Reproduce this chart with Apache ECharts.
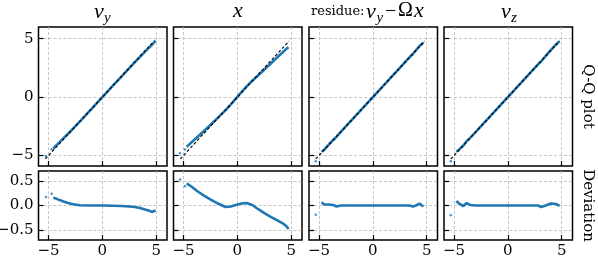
<!DOCTYPE html>
<html><head><meta charset="utf-8">
<script src="https://cdn.jsdelivr.net/npm/echarts@6/dist/echarts.min.js"></script>
<style>html,body{margin:0;padding:0;background:#fff}#c{width:598px;height:260px}</style>
</head><body><div id="c"></div>
<script>
// ---- data (theoretical quantile t, deviation = sample - theoretical) ----
const vyT   = [-4.56,-4.3,-3.97,-3.6,-3.19,-2.7,-2.1,-1.0,0,1.0,1.77,2.5,3.0,3.5,3.95,4.3,4.57,4.75,4.94];
const vyDev = [0.155,0.14,0.11,0.08,0.05,0.025,0.005,0.0,0.0,-0.005,-0.01,-0.02,-0.03,-0.05,-0.08,-0.1,-0.13,-0.13,-0.10];
const vyOutT = [-5.24,-4.71];
const vyOutDev = [0.17,0.24];

const xT   = [-4.71,-4.3,-3.71,-3.1,-2.48,-1.8,-1.09,-0.6,-0.16,0.4,0.86,1.39,1.9,2.47,3.1,3.71,4.33,4.6,4.75];
const xDev = [0.45,0.39,0.29,0.2,0.12,0.04,-0.03,-0.02,0.01,0.04,0.05,0.01,-0.07,-0.15,-0.23,-0.30,-0.38,-0.43,-0.48];
const xOutT = [-5.33,-4.87];
const xOutDev = [0.53,0.39];

const resT   = [-4.75,-4.55,-4.38,-4.15,-3.98,-3.68,-3.37,-3.0,0,3.4,3.71,4.0,4.33,4.55,4.7];
const resDev = [0.07,0.02,-0.02,0.02,0.03,0.01,-0.02,0.0,0.0,0.0,-0.02,0.0,0.04,0.0,-0.02];
const resOutT = [-5.3];
const resOutDev = [-0.19];

const vzT   = [-4.78,-4.54,-4.13,-3.83,-3.5,-3.0,0,2.8,3.1,3.5,4.0,4.5,4.8];
const vzDev = [0.09,0.04,-0.01,0.05,0.01,0.0,0.0,0.0,-0.03,0.0,0.04,0.03,-0.01];
const vzOutT = [-5.3];
const vzOutDev = [-0.2];

const refLine = [-5.3, 4.8];          // y = x reference
const xTicks = [-5, 0, 5];
const qqTicks = [-5, 0, 5];
const devTicks = [-0.5, 0, 0.5];
const rowLabels = ['Q-Q plot', 'Deviation'];

// ---- build chart ----
const cols = [
  {t: vyT, d: vyDev, ot: vyOutT, od: vyOutDev},
  {t: xT, d: xDev, ot: xOutT, od: xOutDev},
  {t: resT, d: resDev, ot: resOutT, od: resOutDev},
  {t: vzT, d: vzDev, ot: vzOutT, od: vzOutDev}
];
const colLeft = [38.5, 173.5, 309, 444];
const colW = 128.5;
const rowTop = [27, 171];
const rowH = [139, 69];
const BLUE = '#1f77b4';
const FONT = 'DejaVu Serif';
const MATH = 'Liberation Serif';
const fmtInt = v => (v < 0 ? '\u2212' : '') + Math.abs(v);
const fmtDec = v => (v < 0 ? '\u2212' : '') + Math.abs(v).toFixed(1);
const split = {show: true, lineStyle: {color: '#b8b8b8', type: [3, 2], width: 0.8}};

const grid = [], xAxis = [], yAxis = [], series = [];
for (let r = 0; r < 2; r++) {
  for (let c = 0; c < 4; c++) {
    const i = r * 4 + c;
    grid.push({left: colLeft[c], top: rowTop[r], width: colW, height: rowH[r], show: true,
      borderColor: '#000', borderWidth: 1.5, backgroundColor: 'transparent',
      containLabel: false, outerBoundsMode: 'none'});
    xAxis.push({type: 'value', gridIndex: i, min: -5.93, max: 6.0,
      axisLine: {show: false, onZero: false},
      axisTick: {show: true, inside: true, length: 5, customValues: xTicks, lineStyle: {color: '#000', width: 1.2}},
      axisLabel: {show: r === 1, customValues: xTicks, formatter: fmtInt, color: '#000', fontFamily: FONT, fontSize: 15, margin: 4},
      splitLine: split});
    yAxis.push({type: 'value', gridIndex: i,
      min: r === 0 ? -5.9 : -0.7, max: r === 0 ? 6.0 : 0.7,
      axisLine: {show: false, onZero: false},
      axisTick: {show: true, inside: true, length: 5, customValues: r === 0 ? qqTicks : devTicks, lineStyle: {color: '#000', width: 1.2}},
      axisLabel: {show: c === 0, customValues: r === 0 ? qqTicks : devTicks, formatter: r === 0 ? fmtInt : fmtDec,
        color: '#000', fontFamily: FONT, fontSize: 15, margin: 5},
      splitLine: split});
  }
}
cols.forEach((col, c) => {
  const top = c, bot = c + 4;
  series.push({type: 'line', xAxisIndex: top, yAxisIndex: top, showSymbol: false, silent: true,
    data: col.t.map((t, k) => [t, t + col.d[k]]), lineStyle: {color: BLUE, width: 2.6}, z: 2});
  series.push({type: 'scatter', xAxisIndex: top, yAxisIndex: top, symbolSize: 2.5,
    data: col.ot.map((t, k) => [t, t + col.od[k]]), itemStyle: {color: BLUE}, z: 2});
  series.push({type: 'line', xAxisIndex: top, yAxisIndex: top, showSymbol: false, silent: true,
    data: refLine.map(v => [v, v]), lineStyle: {color: '#000', width: 1.1, type: [3, 2]}, z: 5});
  series.push({type: 'line', xAxisIndex: bot, yAxisIndex: bot, showSymbol: false, silent: true,
    data: col.t.map((t, k) => [t, col.d[k]]), lineStyle: {color: BLUE, width: 2.6}, z: 2});
  series.push({type: 'scatter', xAxisIndex: bot, yAxisIndex: bot, symbolSize: 2.5,
    data: col.ot.map((t, k) => [t, col.od[k]]), itemStyle: {color: BLUE}, z: 2});
});

const it = (txt, x, y, size) => ({type: 'text', x, y, silent: true,
  style: {text: txt, font: `italic ${size}px "${MATH}"`, fill: '#000', align: 'left', verticalAlign: 'middle'}});
const rm = (txt, x, y, size, fam) => ({type: 'text', x, y, silent: true,
  style: {text: txt, font: `${size}px "${fam || MATH}"`, fill: '#000', align: 'left', verticalAlign: 'middle'}});

const graphic = [
  it('v', 94, 12, 22), it('y', 104, 18, 15),
  it('x', 233, 11, 22),
  rm('residue:', 311, 12, 13, FONT), it('v', 366, 12, 22), it('y', 376.5, 18, 15),
  rm('\u2212', 385, 12, 20), rm('\u03A9', 398, 11, 20), it('x', 414, 11, 22),
  it('v', 501, 12, 22), it('z', 511, 18, 15),
  {type: 'text', x: 588, y: 96.5, rotation: -Math.PI / 2, silent: true,
    style: {text: rowLabels[0], font: `15px "${FONT}"`, fill: '#000', align: 'center', verticalAlign: 'middle'}},
  {type: 'text', x: 588, y: 205.5, rotation: -Math.PI / 2, silent: true,
    style: {text: rowLabels[1], font: `15px "${FONT}"`, fill: '#000', align: 'center', verticalAlign: 'middle'}}
];

const chart = echarts.init(document.getElementById('c'), null, {renderer: 'canvas'});
chart.setOption({animation: false, backgroundColor: '#fff', grid, xAxis, yAxis, series, graphic});
</script>
</body></html>
